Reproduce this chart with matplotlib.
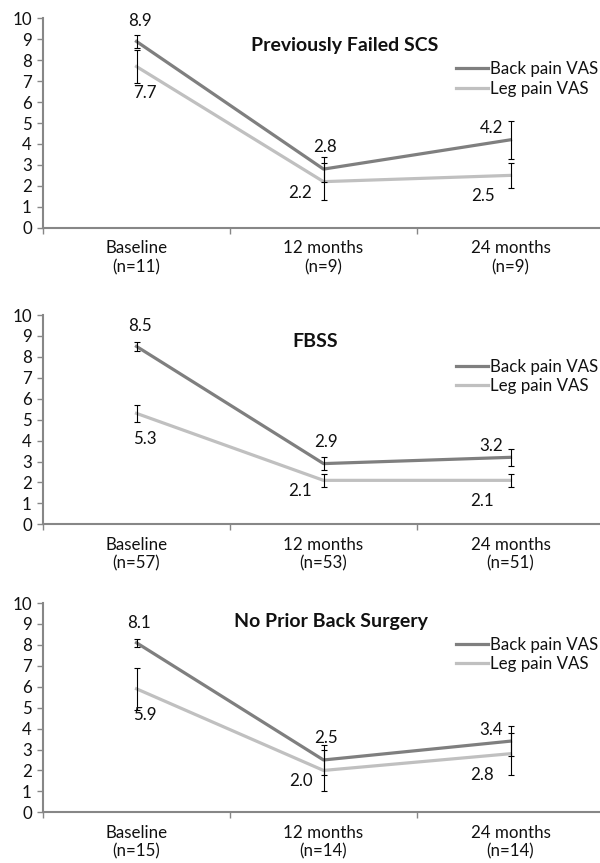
import matplotlib
matplotlib.use("Agg")
import matplotlib.pyplot as plt

plt.rcParams['font.family'] = ['Lato', 'DejaVu Sans']

# --- data ---
timepoints = ["Baseline", "12 months", "24 months"]
titles = ["Previously Failed SCS", "FBSS", "No Prior Back Surgery"]
n_counts = [[11, 9, 9], [57, 53, 51], [15, 14, 14]]

back_vas = [[8.9, 2.8, 4.2], [8.5, 2.9, 3.2], [8.1, 2.5, 3.4]]
back_err = [[0.3, 0.6, 0.9], [0.2, 0.3, 0.4], [0.2, 0.7, 0.7]]
leg_vas = [[7.7, 2.2, 2.5], [5.3, 2.1, 2.1], [5.9, 2.0, 2.8]]
leg_err = [[0.8, 0.9, 0.6], [0.4, 0.3, 0.3], [1.0, 1.0, 1.0]]

# --- layout (pixels in a 600x863 canvas) ---
W, H = 600, 863
ax_left, ax_width = 43, 561
ax_zero = [227.7, 524.3, 812.3]   # y pixel of value 0
ax_height = 209.3
title_pos = [(0.537, 0.872), (0.485, 0.872), (0.513, 0.912)]
legend_pos = [(0.736, 0.710), (0.736, 0.707), (0.736, 0.753)]

# label offsets (pixels) per time point
back_off = [(3, 20), (2, 22), (-19, 11.5)]
leg_off = [(8, -26), (-23, -11), (-28, -21)]

BACK = "#7f7f7f"
LEG = "#c0c0c0"
AXIS = "#878787"
TXT = "#111111"
FS = 12.2

fig = plt.figure(figsize=(W / 100, H / 100), dpi=100)

for i in range(3):
    bottom = (H - ax_zero[i]) / H
    ax = fig.add_axes([ax_left / W, bottom, ax_width / W, ax_height / H])
    x = list(range(len(timepoints)))

    ax.plot(x, back_vas[i], color=BACK, lw=2.3, label="Back pain VAS", zorder=2)
    ax.plot(x, leg_vas[i], color=LEG, lw=2.3, label="Leg pain VAS", zorder=2)
    ax.errorbar(x, back_vas[i], yerr=back_err[i], fmt="none", ecolor="black",
                elinewidth=0.8, capsize=2.5, capthick=0.8, zorder=3)
    ax.errorbar(x, leg_vas[i], yerr=leg_err[i], fmt="none", ecolor="black",
                elinewidth=0.8, capsize=2.5, capthick=0.8, zorder=3)

    for j in x:
        ax.annotate(f"{back_vas[i][j]:.1f}", (j, back_vas[i][j]),
                    xytext=back_off[j], textcoords="offset pixels",
                    ha="center", va="center", fontsize=FS, color=TXT)
        ax.annotate(f"{leg_vas[i][j]:.1f}", (j, leg_vas[i][j]),
                    xytext=leg_off[j], textcoords="offset pixels",
                    ha="center", va="center", fontsize=FS, color=TXT)

    ax.set_xlim(-0.5, 2.5)
    ax.set_ylim(0, 10)
    ax.set_yticks(range(0, 11))
    ax.set_xticks(x)
    ax.set_xticklabels([f"{t}\n(n={n})" for t, n in zip(timepoints, n_counts[i])])
    ax.set_xticks([-0.5, 0.5, 1.5, 2.5], minor=True)
    ax.tick_params(axis="x", which="major", length=0, pad=9, labelsize=FS, labelcolor=TXT)
    ax.tick_params(axis="x", which="minor", length=4, width=1, color=AXIS, direction="out")
    ax.tick_params(axis="y", length=4, width=1, color=AXIS, direction="out",
                   pad=4, labelsize=FS, labelcolor=TXT)

    for side in ("top", "right"):
        ax.spines[side].set_visible(False)
    for side in ("left", "bottom"):
        ax.spines[side].set_color(AXIS)
        ax.spines[side].set_linewidth(1.5)

    ax.text(title_pos[i][0], title_pos[i][1], titles[i], transform=ax.transAxes,
            ha="center", va="center", fontsize=14, fontweight="bold", color=TXT)

    ax.legend(loc="center left", bbox_to_anchor=legend_pos[i], frameon=False,
              fontsize=FS, handlelength=1.9, handletextpad=0.1, borderpad=0,
              borderaxespad=0, labelspacing=0.2, labelcolor=TXT)

fig.savefig("out.png", dpi=100)
